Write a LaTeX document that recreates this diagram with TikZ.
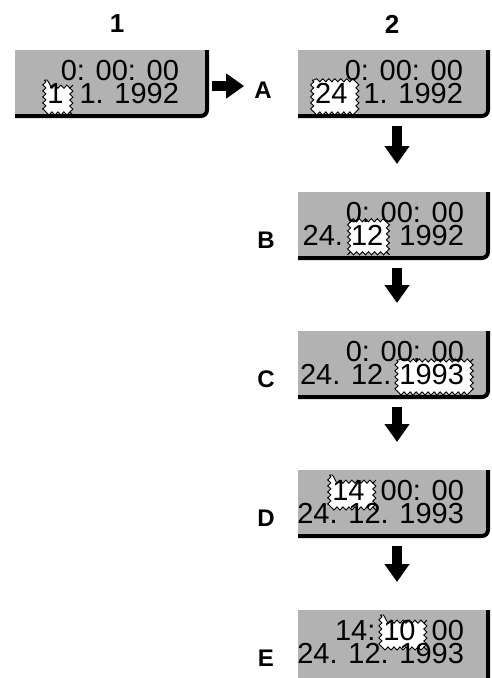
\documentclass[tikz,border=0pt]{standalone}
\usepackage{fontspec}
\setmainfont{Liberation Sans}
\usetikzlibrary{calc,arrows.meta,decorations.pathmorphing}
\pgfdeclarelayer{bg}
\pgfdeclarelayer{hl}
\pgfsetlayers{bg,hl,main}
\begin{document}
\begin{tikzpicture}[x=1pt,y=-1pt,
 panel/.style={fill=black!30, minimum width=190pt, minimum height=66pt, anchor=north west, inner sep=0pt, outer sep=0pt},
 rim/.style={line width=4pt, rounded corners=6pt, line cap=butt},
 txt/.style={font=\fontsize{29}{29}\selectfont, inner sep=0pt, outer sep=0pt, anchor=base east},
 flash/.style={fill=white, draw=black, line width=0.9pt, decorate, decoration={snake, amplitude=1.6pt, segment length=6pt}},
 head/.style={font=\bfseries\fontsize{26}{26}\selectfont, inner sep=0pt},
 lab/.style={font=\bfseries\fontsize{24}{24}\selectfont, inner sep=0pt},
 blk/.style={line width=10pt, -{Triangle[width=24pt,length=18pt]}},
]
\useasboundingbox (0,0) rectangle (492,678);

% panels
\begin{pgfonlayer}{bg}
\node[panel, minimum width=192pt] (p1) at (15,50) {};
\node[panel] (pA) at (298,50) {};
\node[panel] (pB) at (298,192) {};
\node[panel] (pC) at (298,331) {};
\node[panel] (pD) at (298,470) {};
\node[panel, minimum height=80pt] (pE) at (298,610) {};
\foreach \p in {p1,pA,pB,pC,pD,pE}
  \draw[rim] (\p.north east) -- (\p.south east) -- (\p.south west);
\end{pgfonlayer}

% column headings and row labels
\node[head] (c1) at (117,24) {1};
\node[head] (c2) at (392,24) {2};
\node[lab] (lA) at (263,90) {A};
\node[lab] (lB) at (266,240) {B};
\node[lab] (lC) at (266,379) {C};
\node[lab] (lD) at (266,518) {D};
\node[lab] (lE) at (266,658) {E};

% box 1
\node[txt] (t1a) at ($(p1.north east)+(-28,30)$) {0: 00: 00};
\node[txt] (t1b) at ($(p1.north east)+(-28,53)$) {\ 1. 1992};
\node[txt] (h1) at (t1b.base west) {1\phantom{.}};

% box A
\node[txt] (tAa) at ($(pA.north east)+(-25,30)$) {0: 00: 00};
\node[txt] (tAb) at ($(pA.north east)+(-25,53)$) {\ 1. 1992};
\node[txt] (hA) at (tAb.base west) {24\phantom{.}};

% box B
\node[txt] (tBa) at ($(pB.north east)+(-24,30)$) {0: 00: 00};
\node[txt] (tBb) at ($(pB.north east)+(-24,53)$) {\ 1992};
\node[txt] (hB) at (tBb.base west) {12\phantom{.}};
\node[txt] (sB) at (hB.base west) {\mbox{24.\ }};

% box C
\node[txt] (tCa) at ($(pC.north east)+(-24,30)$) {0: 00: 00};
\node[txt] (hC) at ($(pC.north east)+(-24,53)$) {1993};
\node[txt] (sC) at (hC.base west) {\mbox{24. 12.\ }};

% box D
\node[txt] (tDa) at ($(pD.north east)+(-24,30)$) {\ 00: 00};
\node[txt] (hD) at (tDa.base west) {14\phantom{:}};
\node[txt] (tDb) at ($(pD.north east)+(-24,53)$) {24. 12. 1993};

% box E
\node[txt] (tEa) at ($(pE.north east)+(-24,30)$) {\ 00};
\node[txt] (hE) at (tEa.base west) {10\phantom{:}};
\node[txt] (sE) at (hE.base west) {\mbox{14:\ }};
\node[txt] (tEb) at ($(pE.north east)+(-24,53)$) {24. 12. 1993};

% flashing fields
\begin{pgfonlayer}{hl}
\path[flash] ($(h1.base west)+(-3,-23)$) rectangle ($(h1.base east)+(1,6)$);
\path[flash] ($(hA.base west)+(-3,-23)$) rectangle ($(hA.base east)+(1,6)$);
\path[flash] ($(hB.base west)+(-2,-25)$) rectangle ($(hB.base east)+(1,7)$);
\path[flash] ($(hC.base west)+(-3,-24)$) rectangle ($(hC.base east)+(5,7)$);
\path[flash] ($(hD.base west)+(-3,-25)$) rectangle ($(hD.base east)+(1,6)$);
\path[flash] ($(hE.base west)+(-3,-25)$) rectangle ($(hE.base east)+(1,6)$);
\end{pgfonlayer}

% arrows
\draw[blk, shorten <=5pt, shorten >=10pt] ($(p1.east |- lA.west)+(0,-4)$) -- ($(lA.west)+(0,-4)$);
\draw[blk, shorten <=10pt, shorten >=28pt] ($(pA.south)+(4,0)$) -- ($(pB.north)+(4,0)$);
\draw[blk, shorten <=10pt, shorten >=28pt] ($(pB.south)+(4,0)$) -- ($(pC.north)+(4,0)$);
\draw[blk, shorten <=10pt, shorten >=28pt] ($(pC.south)+(4,0)$) -- ($(pD.north)+(4,0)$);
\draw[blk, shorten <=10pt, shorten >=28pt] ($(pD.south)+(4,0)$) -- ($(pE.north)+(4,0)$);
\end{tikzpicture}
\end{document}
